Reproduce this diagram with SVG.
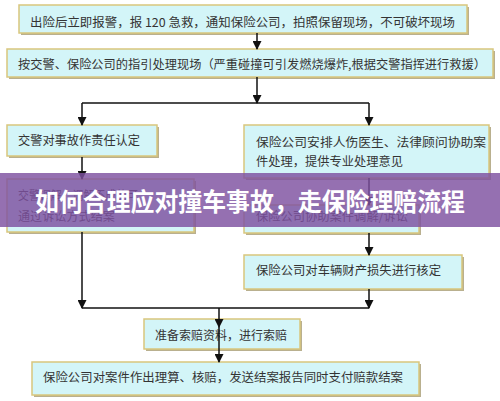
<svg xmlns="http://www.w3.org/2000/svg" width="500" height="401" viewBox="0 0 500 401">
<defs>
<marker id="ah" markerWidth="9" markerHeight="9" refX="8" refY="4.5" orient="auto" markerUnits="userSpaceOnUse">
<path d="M0,0 L9,4.5 L0,9 Z" fill="#111"/>
</marker>
<style>
.sh{fill:#b9b08f;}
.bx{fill:#d3f5f8;stroke:#d9c67c;stroke-width:1.5;}
.t{font-family:"Noto Sans CJK SC","Liberation Sans",sans-serif;font-size:12px;fill:#333;}
.c{fill:none;stroke:#111;stroke-width:1.5;}
.ttl{font-family:"Noto Sans CJK SC","Liberation Sans",sans-serif;font-size:25px;font-weight:bold;fill:#fff;}
</style>
</defs>
<rect width="500" height="401" fill="#fff"/>
<g id="n1"><rect class="sh" x="21" y="7" width="448" height="28"/><rect class="bx" x="19" y="5" width="448" height="28"/><text class="t" x="30" y="27" textLength="425" lengthAdjust="spacingAndGlyphs">出险后立即报警，报 120 急救，通知保险公司，拍照保留现场，不可破坏现场</text></g>
<g id="n2"><rect class="sh" x="9" y="51" width="486" height="28"/><rect class="bx" x="7" y="49" width="486" height="28"/><text class="t" x="18" y="69" textLength="468" lengthAdjust="spacingAndGlyphs">按交警、保险公司的指引处理现场（严重碰撞可引发燃烧爆炸,根据交警指挥进行救援）</text></g>
<g id="n3"><rect class="sh" x="9" y="127" width="150" height="31"/><rect class="bx" x="7" y="125" width="150" height="31"/><text class="t" x="18" y="145" textLength="122" lengthAdjust="spacingAndGlyphs">交警对事故作责任认定</text></g>
<g id="n4"><rect class="sh" x="9" y="181" width="187" height="53"/><rect class="bx" x="7" y="179" width="187" height="53"/><text class="t" x="18" y="200" textLength="120" lengthAdjust="spacingAndGlyphs">交警调解，调解不成的可</text><text class="t" x="18" y="221" textLength="97" lengthAdjust="spacingAndGlyphs">通过诉讼方式结案</text></g>
<g id="n5"><rect class="sh" x="246" y="127" width="245" height="53"/><rect class="bx" x="244" y="125" width="245" height="53"/><text class="t" x="256" y="147" textLength="230" lengthAdjust="spacingAndGlyphs">保险公司安排人伤医生、法律顾问协助案</text><text class="t" x="256" y="166" textLength="147" lengthAdjust="spacingAndGlyphs">件处理，提供专业处理意见</text></g>
<g id="n6"><rect class="sh" x="246" y="207" width="175" height="28"/><rect class="bx" x="244" y="205" width="175" height="28"/><text class="t" x="256" y="221" textLength="152" lengthAdjust="spacingAndGlyphs">保险公司协助案件调解/诉讼</text></g>
<g id="n7"><rect class="sh" x="246" y="257" width="218" height="34"/><rect class="bx" x="244" y="255" width="218" height="34"/><text class="t" x="256" y="275" textLength="185" lengthAdjust="spacingAndGlyphs">保险公司对车辆财产损失进行核定</text></g>
<g id="n8"><rect class="sh" x="146" y="321" width="156" height="30"/><rect class="bx" x="144" y="319" width="156" height="30"/><text class="t" x="155" y="340" textLength="132" lengthAdjust="spacingAndGlyphs">准备索赔资料，进行索赔</text></g>
<g id="n9"><rect class="sh" x="34" y="364" width="387" height="33"/><rect class="bx" x="32" y="362" width="387" height="33"/><text class="t" x="43" y="382" textLength="360" lengthAdjust="spacingAndGlyphs">保险公司对案件作出理算、核赔，发送结案报告同时支付赔款结案</text></g>
<g id="connectors">
<path class="c" d="M257,33 V49" marker-end="url(#ah)"/>
<path class="c" d="M257,77 V103" marker-end="url(#ah)"/>
<path class="c" d="M82,103 H369"/>
<path class="c" d="M82,103 V125" marker-end="url(#ah)"/>
<path class="c" d="M369,103 V125" marker-end="url(#ah)"/>
<path class="c" d="M82,157 V179" marker-end="url(#ah)"/>
<path class="c" d="M369,178 V205" marker-end="url(#ah)"/>
<path class="c" d="M369,233 V255" marker-end="url(#ah)"/>
<path class="c" d="M82,232 V308" marker-end="url(#ah)"/>
<path class="c" d="M369,289 V308" marker-end="url(#ah)"/>
<path class="c" d="M82,308 H369"/>
<path class="c" d="M219,308 V327" marker-end="url(#ah)"/>
<path class="c" d="M219,327 V362" marker-end="url(#ah)"/>
</g>
<g id="banner">
<rect x="0" y="173" width="500" height="54" fill="#7e50a0" fill-opacity="0.82"/>
<text class="ttl" x="35" y="211" textLength="430" lengthAdjust="spacingAndGlyphs">如何合理应对撞车事故，走保险理赔流程</text>
</g>
</svg>
